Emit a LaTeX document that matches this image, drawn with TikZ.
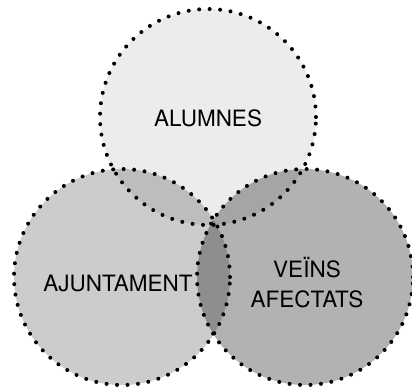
\documentclass[tikz,border=0pt]{standalone}
\usepackage{fontspec}
\setmainfont{TeX Gyre Heros}
\usepackage{tikz}

\begin{document}
\begin{tikzpicture}[
x=1pt,y=1pt,
setfill/.style={
  fill=black,
  fill opacity=#1
},
setline/.style={
  draw=black,
  line width=4pt,
  line cap=round,
  dash pattern=on 0pt off 10.5pt
},
setlabel/.style={
  font=\fontsize{22.5}{30}\selectfont,
  align=center,
  inner sep=0pt
}
]
\useasboundingbox (0,0) rectangle (412,389);

% centres of the three sets
\coordinate (alumnes) at (208,272);
\coordinate (ajunt) at (122,112);
\coordinate (veins) at (305,112);

% fills first, then the dotted rims on top
\fill[setfill=0.075] (alumnes) circle (108);
\fill[setfill=0.2] (ajunt) circle (108);
\fill[setfill=0.3] (veins) circle (108);

\draw[setline] (alumnes) circle (108);
\draw[setline] (ajunt) circle (108);
\draw[setline] (veins) circle (108);

\node[setlabel] (lalumnes) at ([shift={(0,-1)}]alumnes) {ALUMNES};
\node[setlabel] (lajunt) at ([shift={(-4,-6)}]ajunt) {AJUNTAMENT};
\node[setlabel] (lveins) at ([shift={(2,-6)}]veins) {VEÏNS\\AFECTATS};
\end{tikzpicture}
\end{document}
